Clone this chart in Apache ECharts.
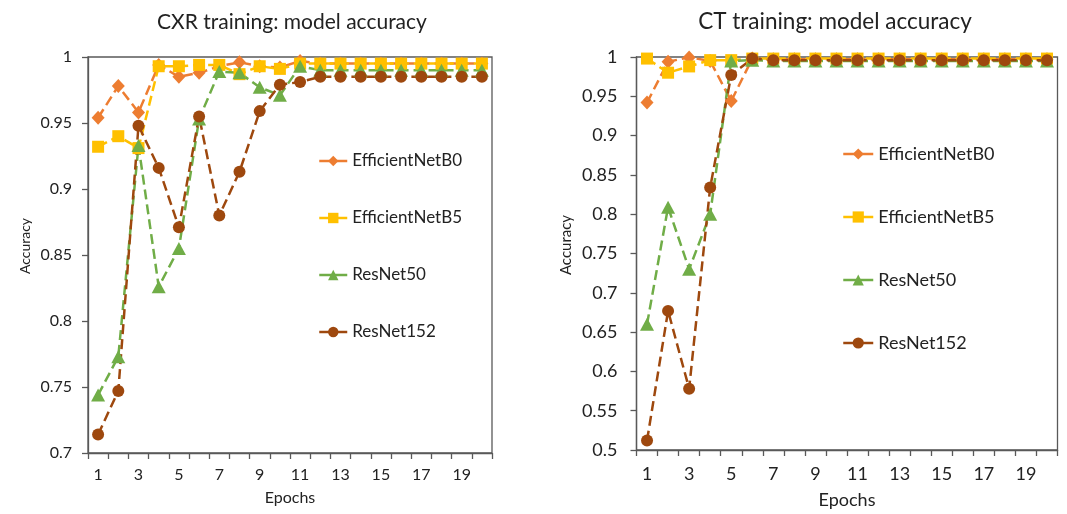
<!DOCTYPE html>
<html>
<head>
<meta charset="utf-8">
<script src="https://cdn.jsdelivr.net/npm/echarts@6/dist/echarts.min.js"></script>
<style>
html,body{margin:0;padding:0;background:#fff;}
#chart{width:1067px;height:514px;}
</style>
</head>
<body>
<div id="chart"></div>
<script>
var epochs = ['1','2','3','4','5','6','7','8','9','10','11','12','13','14','15','16','17','18','19','20'];
var seriesNames = ['EfficientNetB0','EfficientNetB5','ResNet50','ResNet152'];

// CXR training accuracy
var cxrB0   = [0.954,0.978,0.958,0.994,0.985,0.988,0.993,0.996,0.993,0.992,0.997,0.995,0.995,0.995,0.995,0.995,0.995,0.995,0.995,0.995];
var cxrB5   = [0.932,0.940,0.931,0.993,0.993,0.994,0.994,0.987,0.993,0.991,0.995,0.995,0.995,0.995,0.995,0.995,0.995,0.995,0.995,0.995];
var cxrR50  = [0.744,0.773,0.933,0.826,0.855,0.953,0.989,0.988,0.977,0.971,0.993,0.990,0.990,0.990,0.990,0.990,0.990,0.990,0.990,0.990];
var cxrR152 = [0.714,0.747,0.948,0.916,0.871,0.955,0.880,0.913,0.959,0.979,0.981,0.985,0.985,0.985,0.985,0.985,0.985,0.985,0.985,0.985];

// CT training accuracy
var ctB0   = [0.942,0.994,0.9995,0.995,0.944,0.998,0.997,0.997,0.997,0.997,0.997,0.997,0.997,0.997,0.997,0.997,0.997,0.997,0.997,0.997];
var ctB5   = [0.998,0.980,0.988,0.996,0.996,0.998,0.998,0.998,0.998,0.998,0.998,0.998,0.998,0.998,0.998,0.998,0.998,0.998,0.998,0.998];
var ctR50  = [0.660,0.809,0.730,0.800,0.995,0.996,0.995,0.995,0.995,0.995,0.995,0.995,0.995,0.995,0.995,0.995,0.995,0.995,0.995,0.995];
var ctR152 = [0.512,0.677,0.578,0.834,0.977,0.998,0.996,0.996,0.996,0.996,0.996,0.996,0.996,0.996,0.996,0.996,0.996,0.996,0.996,0.996];

var colors  = ['#ED7D31','#FFC000','#70AD47','#9E480E'];
var symbols = ['diamond','rect','triangle','circle'];
var symSizes = [[13,14],[12,12],[14,13],[12,12]];
var FONT = 'Lato';
var AXC = '#595959';

function mkSeries(data, idx, gi){
  return {
    name: seriesNames[idx], type:'line', xAxisIndex: gi, yAxisIndex: gi,
    data: data, symbol: symbols[idx], symbolSize: symSizes[idx],
    showSymbol:true, showAllSymbol:true,
    lineStyle:{color:colors[idx], width:2.5, type:[10,5]},
    itemStyle:{color:colors[idx]},
    emphasis:{disabled:true}, animation:false
  };
}
function fmt(v){ return String(+v.toFixed(2)); }
function xAx(gi, fs, margin, gap, nfs){
  return {type:'category', gridIndex:gi, data:epochs, boundaryGap:true,
    name:'Epochs', nameLocation:'middle', nameGap:gap,
    nameTextStyle:{fontFamily:FONT, fontSize:nfs, color:'#222', verticalAlign:'top'},
    axisLine:{lineStyle:{color:AXC, width:1.3}},
    axisTick:{show:true, interval:0, length:6, inside:false, lineStyle:{color:AXC, width:1.3}},
    axisLabel:{interval:1, fontFamily:FONT, fontSize:fs, color:'#222', margin:margin},
    splitLine:{show:false}};
}
function yAx(gi, min, fs, margin){
  return {type:'value', gridIndex:gi, min:min, max:1, interval:0.05,
    axisLine:{show:true, lineStyle:{color:AXC, width:1.3}},
    axisTick:{show:true, length:6, lineStyle:{color:AXC, width:1.3}},
    axisLabel:{formatter:fmt, fontFamily:FONT, fontSize:fs, color:'#222', margin:margin},
    splitLine:{show:false}};
}

var chart = echarts.init(document.getElementById('chart'), null, {renderer:'canvas'});
chart.setOption({
  backgroundColor:'#fff',
  animation:false,
  grid:[
    {left:88, top:57, width:404, height:396, show:true, borderColor:AXC, borderWidth:1.3, backgroundColor:'transparent'},
    {left:636.5, top:57, width:421, height:396, show:true, borderColor:AXC, borderWidth:1.3, backgroundColor:'transparent'}
  ],
  xAxis:[ xAx(0,16,14,37,16), xAx(1,18,15,41,18) ],
  yAxis:[ yAx(0,0.7,16,16), yAx(1,0.5,18,19) ],
  legend:[
    {orient:'vertical', left:313, top:146, itemWidth:28, itemHeight:13, itemGap:37,
     data:seriesNames, selectedMode:false,
     lineStyle:{type:'solid', width:2.5},
     textStyle:{fontFamily:FONT, fontSize:17, color:'#222', lineHeight:20}},
    {orient:'vertical', left:837, top:139, itemWidth:30, itemHeight:14, itemGap:43,
     data:seriesNames, selectedMode:false,
     lineStyle:{type:'solid', width:2.5},
     textStyle:{fontFamily:FONT, fontSize:18, color:'#222', lineHeight:20}}
  ],
  graphic:[
    {type:'text', x:292, y:22, silent:true, style:{text:'CXR training: model accuracy', font:'21px Lato', fill:'#222', textAlign:'center', textVerticalAlign:'middle'}},
    {type:'text', x:835, y:22, silent:true, style:{text:'CT training: model accuracy', font:'22.5px Lato', fill:'#222', textAlign:'center', textVerticalAlign:'middle'}},
    {type:'text', x:25, y:246, rotation:Math.PI/2, silent:true, style:{text:'Accuracy', font:'14px Lato', fill:'#222', textAlign:'center', textVerticalAlign:'middle'}},
    {type:'text', x:566, y:245, rotation:Math.PI/2, silent:true, style:{text:'Accuracy', font:'15px Lato', fill:'#222', textAlign:'center', textVerticalAlign:'middle'}}
  ],
  series:[
    mkSeries(cxrB0,0,0), mkSeries(cxrB5,1,0), mkSeries(cxrR50,2,0), mkSeries(cxrR152,3,0),
    mkSeries(ctB0,0,1), mkSeries(ctB5,1,1), mkSeries(ctR50,2,1), mkSeries(ctR152,3,1)
  ]
});
</script>
</body>
</html>
